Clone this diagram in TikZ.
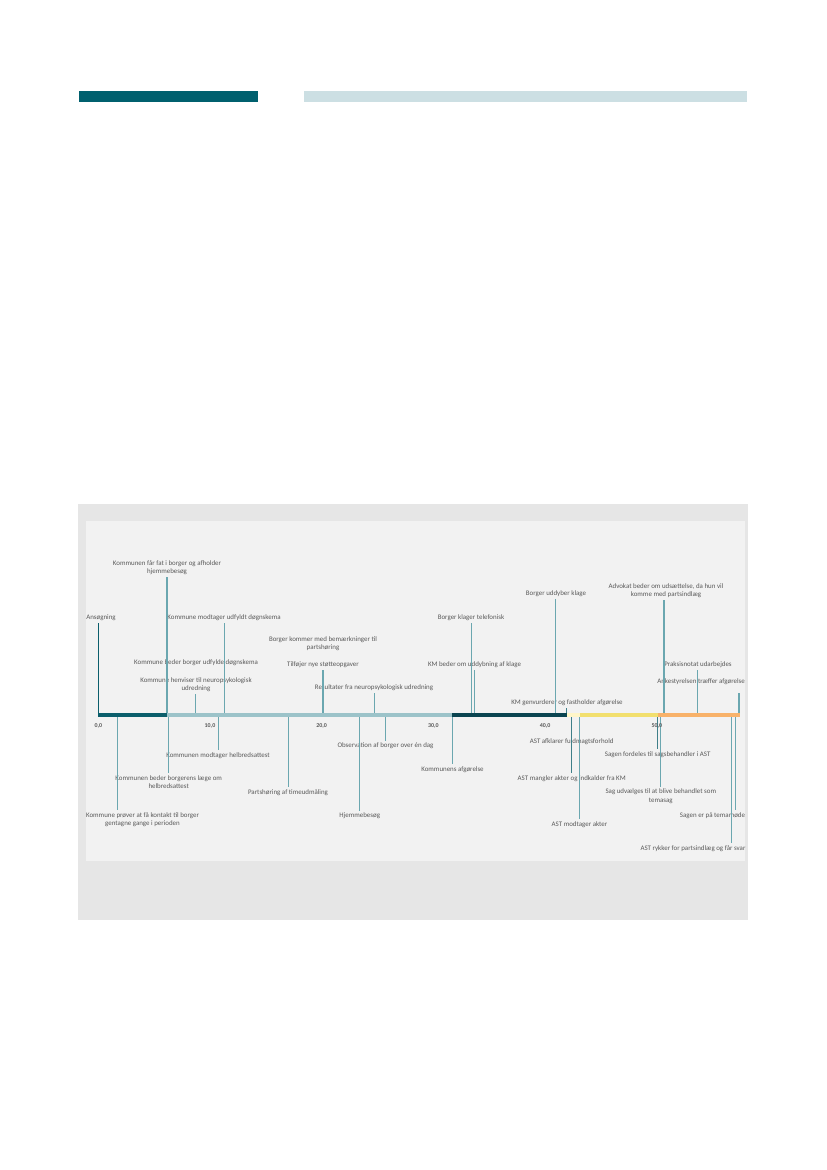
\documentclass[tikz,border=0pt]{standalone}
\usepackage{fontspec}
\setmainfont{Carlito}
\usepackage{tikz}
\usetikzlibrary{positioning}
\definecolor{tlhead}{HTML}{00606E}
\definecolor{tlheadl}{HTML}{CCDFE3}
\definecolor{tlframe}{HTML}{E6E6E6}
\definecolor{tlplot}{HTML}{F2F2F2}
\definecolor{tltext}{HTML}{595959}
\definecolor{tlstem}{HTML}{6BA7B0}
\definecolor{tlstemd}{HTML}{0B5E6B}
\definecolor{tlstemm}{HTML}{3F7F89}
\definecolor{segA}{HTML}{0B5E6B}
\definecolor{segB}{HTML}{9CC3C9}
\definecolor{segC}{HTML}{0A4450}
\definecolor{segD}{HTML}{FFF6C8}
\definecolor{segE}{HTML}{F2DF6E}
\definecolor{segF}{HTML}{F8B26A}
\tikzset{
  evlbl/.style   = {font=\fontsize{5}{6.1}\selectfont, text=tltext,
                    align=center, inner sep=1.5pt},
  uplbl/.style   = {evlbl, anchor=south},
  dnlbl/.style   = {evlbl, anchor=north},
  stem/.style    = {draw=tlstem, line width=0.72pt},
  stemw/.style   = {stem, line width=1.45pt},
  stemd/.style   = {stem, draw=tlstemd},
  stemm/.style   = {stem, draw=tlstemm},
  ticklbl/.style = {font=\fontsize{4.3}{5}\selectfont\bfseries, text=tltext,
                    inner sep=0pt},
}

\begin{document}
\begin{tikzpicture}[x=0.25393mm, y=-0.25393mm]
  \useasboundingbox (0,0) rectangle (827,1170);

  % ---------- header bars ------------------------------------------------
  \fill[tlhead]  (79,91) rectangle (258,102);
  \fill[tlheadl] (304,91) rectangle (747,102);

  % ---------- frame ------------------------------------------------------
  \fill[tlframe] (78,504) rectangle (748,920);
  \fill[tlplot]  (86,521) rectangle (745,861);

  % ---------- points on the axis -----------------------------------------
  \coordinate (e01) at (98.3,714.5);
  \coordinate (e02) at (167,714.5);
  \coordinate (e03) at (224,714.5);
  \coordinate (e05) at (195.7,714.5);
  \coordinate (e07) at (322.7,714.5);
  \coordinate (e08) at (374.3,714.5);
  \coordinate (e09) at (471.7,714.5);
  \coordinate (e10) at (474.3,714.5);
  \coordinate (e11) at (555.3,714.5);
  \coordinate (e12) at (566.3,714.5);
  \coordinate (e13) at (664,714.5);
  \coordinate (e14) at (697.3,714.5);
  \coordinate (e15) at (738.7,714.5);
  \coordinate (e15t) at (738.7,693);
  \coordinate (f01) at (117.3,714.5);
  \coordinate (f02) at (168.3,714.5);
  \coordinate (f03) at (218.3,714.5);
  \coordinate (f04) at (288.3,714.5);
  \coordinate (f05) at (359.3,714.5);
  \coordinate (f06) at (385.7,714.5);
  \coordinate (f07) at (452.3,714.5);
  \coordinate (f09) at (571.3,714.5);
  \coordinate (f10) at (579.3,714.5);
  \coordinate (f11) at (657.3,714.5);
  \coordinate (f12) at (660.3,714.5);
  \coordinate (f13) at (735,714.5);
  \coordinate (f14) at (731.3,714.5);

  % ---------- labels above -----------------------------------------------
  \node[uplbl] (l01) at (101,623) {Ansøgning};
  \node[uplbl] (l02) at (167,577) {Kommunen får fat i borger og afholder\\hjemmebesøg};
  \node[uplbl] (l03) at (224,623) {Kommune modtager udfyldt døgnskema};
  \node[uplbl] (l04) at (196,668) {Kommune beder borger udfylde døgnskema};
  \node[uplbl] (l05) at (196,694) {Kommune henviser til neuropsykologisk\\udredning};
  \node[uplbl] (l06) at (323,653) {Borger kommer med bemærkninger til\\partshøring};
  \node[uplbl] (l07) at (323,670) {Tilføjer nye støtteopgaver};
  \node[uplbl] (l08) at (374,693) {Resultater fra neuropsykologisk udredning};
  \node[uplbl] (l09) at (471,623) {Borger klager telefonisk};
  \node[uplbl] (l10) at (474.5,670) {KM beder om uddybning af klage};
  \node[uplbl] (l11) at (556,599) {Borger uddyber klage};
  \node[uplbl] (l12) at (567,708) {KM genvurderer og fastholder afgørelse};
  \node[uplbl] (l13) at (666,600) {Advokat beder om udsættelse, da hun vil\\komme med partsindlæg};
  \node[uplbl] (l14) at (698,670) {Praksisnotat udarbejdes};
  \node[uplbl] (l15) at (701,687) {Ankestyrelsen træffer afgørelse};

  % ---------- labels below -----------------------------------------------
  \node[dnlbl] (m01) at (142.5,810) {Kommune prøver at få kontakt til borger\\gentagne gange i perioden};
  \node[dnlbl] (m02) at (168.7,773) {Kommunen beder borgerens læge om\\helbredsattest};
  \node[dnlbl] (m03) at (218,750) {Kommunen modtager helbredsattest};
  \node[dnlbl] (m04) at (288,787) {Partshøring af timeudmåling};
  \node[dnlbl] (m05) at (359.7,810.7) {Hjemmebesøg};
  \node[dnlbl] (m06) at (385.5,740.7) {Observation af borger over én dag};
  \node[dnlbl] (m07) at (452.5,764) {Kommunens afgørelse};
  \node[dnlbl] (m08) at (571.7,736) {AST afklarer fuldmagtsforhold};
  \node[dnlbl] (m09) at (571.7,773) {AST mangler akter og indkalder fra KM};
  \node[dnlbl] (m10) at (579.5,819) {AST modtager akter};
  \node[dnlbl] (m11) at (657.7,749) {Sagen fordeles til sagsbehandler i AST};
  \node[dnlbl] (m12) at (660.8,786.7) {Sag udvælges til at blive behandlet som\\temasag};
  \node[dnlbl] (m13) at (712.5,810) {Sagen er på temamøde};
  \node[dnlbl] (m14) at (693,843.3) {AST rykker for partsindlæg og får svar};

  % ---------- stems ------------------------------------------------------
  \draw[stemd] (e01) -- (e01 |- l01.south);
  \draw[stemw] (e02) -- (e02 |- l02.south);
  \draw[stem]  (e03) -- (e03 |- l03.south);
  \draw[stem]  (e05) -- (e05 |- l05.south);
  \draw[stemw] (e07) -- (e07 |- l07.south);
  \draw[stem]  (e08) -- (e08 |- l08.south);
  \draw[stem]  (e09) -- (e09 |- l09.south);
  \draw[stem]  (e10) -- (e10 |- l10.south);
  \draw[stem]  (e11) -- (e11 |- l11.south);
  \draw[stemm] (e12) -- (e12 |- l12.south);
  \draw[stemw] (e13) -- (e13 |- l13.south);
  \draw[stem]  (e14) -- (e14 |- l14.south);
  \draw[stemw] (e15) -- (e15t);

  \draw[stem]  (f01) -- (f01 |- m01.north);
  \draw[stem]  (f02) -- (f02 |- m02.north);
  \draw[stem]  (f03) -- (f03 |- m03.north);
  \draw[stem]  (f04) -- (f04 |- m04.north);
  \draw[stem]  (f05) -- (f05 |- m05.north);
  \draw[stem]  (f06) -- (f06 |- m06.north);
  \draw[stem]  (f07) -- (f07 |- m07.north);
  \draw[stemm] (f09) -- (f09 |- m09.north);
  \draw[stem]  (f10) -- (f10 |- m10.north);
  \draw[stemm] (f11) -- (f11 |- m11.north);
  \draw[stem]  (f12) -- (f12 |- m12.north);
  \draw[stem]  (f13) -- (f13 |- m13.north);
  \draw[stem]  (f14) -- (f14 |- m14.north);

  % ---------- axis -------------------------------------------------------
  \fill[segA] (98,712.5) rectangle (167,716.5);
  \fill[segB] (167,712.5) rectangle (452,716.5);
  \fill[segC] (452,712.5) rectangle (567,716.5);
  \fill[segD] (567,712.5) rectangle (580,716.5);
  \fill[segE] (580,712.5) rectangle (658,716.5);
  \fill[segF] (658,712.5) rectangle (739.5,716.5);

  \foreach \i/\t in {0/0,1/10,2/20,3/30,4/40,5/50}
    \node[ticklbl] (t\i) at (98.3+111.7*\i,726) {\t,0};

\end{tikzpicture}
\end{document}
